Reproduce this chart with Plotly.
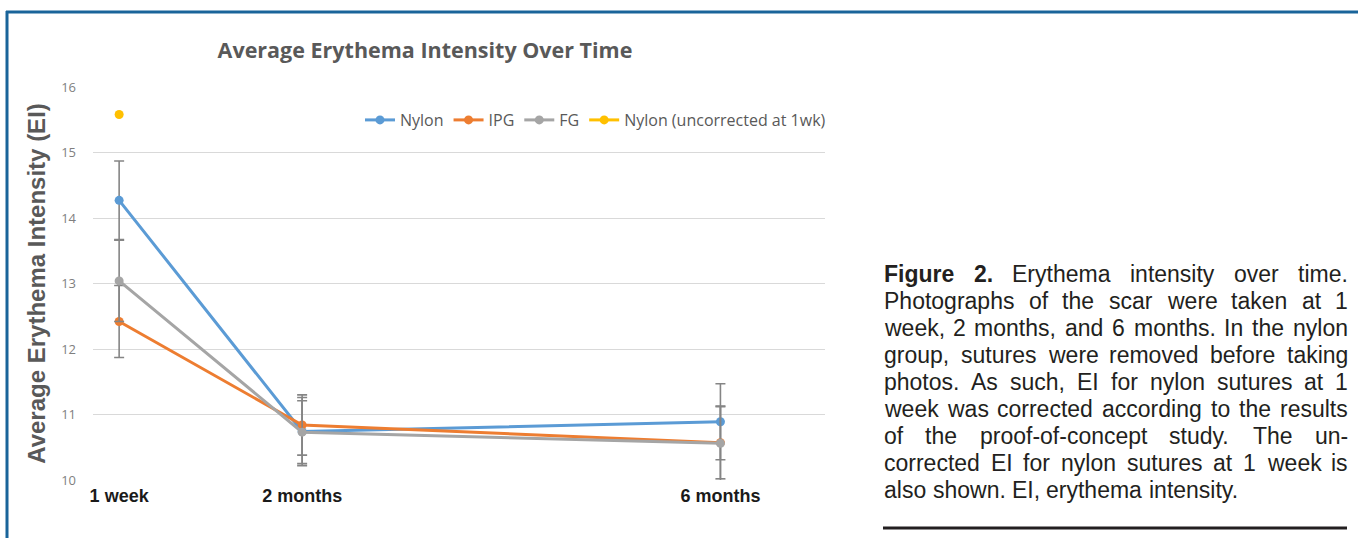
import plotly.graph_objects as go

# ---------------- data ----------------
time_months = [0.25, 2, 6]
time_labels = ["1 week", "2 months", "6 months"]

nylon = [14.27, 10.74, 10.89]
nylon_err = [0.60, 0.52, 0.58]
ipg = [12.42, 10.84, 10.57]
ipg_err = [0.55, 0.46, 0.55]
fg = [13.04, 10.73, 10.56]
fg_err = [0.62, 0.48, 0.57]
nylon_uncorr_time = [0.25]
nylon_uncorr = [15.58]

series_names = ["Nylon", "IPG", "FG", "Nylon (uncorrected at 1wk)"]
y_ticks = [10, 11, 12, 13, 14, 15, 16]

caption_lines = [
    "<b>Figure</b> <b>2.</b> Erythema intensity over time.",
    "Photographs of the scar were taken at 1",
    "week, 2 months, and 6 months. In the nylon",
    "group, sutures were removed before taking",
    "photos. As such, EI for nylon sutures at 1",
    "week was corrected according to the results",
    "of the proof-of-concept study. The un-",
    "corrected EI for nylon sutures at 1 week is",
    "also shown. EI, erythema intensity.",
]

# ---------------- layout geometry ----------------
W, H = 1358, 538
L, R, T, B = 93, 533, 87, 58
PW, PH = W - L - R, H - T - B


def px(xp):
    return (xp - L) / PW


def py(yp):
    return (H - B - yp) / PH


colors = ["#5B9BD5", "#ED7D31", "#A5A5A5", "#FFC000"]
err_col = "#858585"

fig = go.Figure()
for name, vals, errs, col in [
    (series_names[0], nylon, nylon_err, colors[0]),
    (series_names[1], ipg, ipg_err, colors[1]),
    (series_names[2], fg, fg_err, colors[2]),
]:
    fig.add_trace(go.Scatter(
        x=time_months, y=vals, name=name, mode="lines+markers",
        line=dict(color=col, width=3),
        marker=dict(color=col, size=9, symbol="circle"),
        error_y=dict(type="data", array=errs, visible=True,
                     color=err_col, thickness=1.6, width=5),
    ))

fig.add_trace(go.Scatter(
    x=nylon_uncorr_time, y=nylon_uncorr, name=series_names[3],
    mode="lines+markers",
    line=dict(color=colors[3], width=3),
    marker=dict(color=colors[3], size=9),
))

# ---------------- caption (justified, Arial metrics) ----------------
REG = {' ': 278, 'a': 556, 'b': 556, 'c': 500, 'd': 556, 'e': 556, 'f': 278,
       'g': 556, 'h': 556, 'i': 222, 'j': 222, 'k': 500, 'l': 222, 'm': 833,
       'n': 556, 'o': 556, 'p': 556, 'q': 556, 'r': 333, 's': 500, 't': 278,
       'u': 556, 'v': 500, 'w': 722, 'x': 500, 'y': 500, 'z': 500,
       'A': 667, 'E': 667, 'I': 278, 'P': 667, 'T': 611, 'F': 611,
       '.': 278, ',': 278, '-': 333}
BOLD = {'F': 611, 'i': 278, 'g': 611, 'u': 611, 'r': 389, 'e': 556, '.': 278}


def word_width(word, fs):
    bold = word.startswith("<b>")
    w = word.replace("<b>", "").replace("</b>", "")
    tot = 0
    for ch in w:
        if ch.isdigit():
            tot += 556
        elif bold:
            tot += BOLD.get(ch, REG.get(ch, 556))
        else:
            tot += REG.get(ch, 556)
    return tot * fs / 1000.0


cap_fs = 23
cap_left, cap_right = 883, 1347
cap_y0, cap_dy = 274, 27.0
annotations = []
for i, line in enumerate(caption_lines):
    yc = cap_y0 + i * cap_dy
    words = line.split(" ")
    widths = [word_width(w_, cap_fs) for w_ in words]
    if i == len(caption_lines) - 1:
        gap = 278 * cap_fs / 1000.0
    else:
        gap = (cap_right - cap_left - sum(widths)) / (len(words) - 1)
    xcur = cap_left
    for w_, ww in zip(words, widths):
        annotations.append(dict(
            x=px(xcur - 1), y=py(yc), xref="paper", yref="paper",
            text=w_, showarrow=False, xanchor="left", yanchor="middle",
            font=dict(family="Liberation Sans, Arial", size=cap_fs, color="#231f20"),
        ))
        xcur += ww + gap

shapes = [
    # blue frame
    dict(type="line", xref="paper", yref="paper", x0=px(6), x1=px(1360),
         y0=py(12), y1=py(12), line=dict(color="#19649a", width=3)),
    dict(type="line", xref="paper", yref="paper", x0=px(7), x1=px(7),
         y0=py(11), y1=py(540), line=dict(color="#19649a", width=3)),
    # caption rule
    dict(type="line", xref="paper", yref="paper", x0=px(883), x1=px(1347),
         y0=py(528), y1=py(528), line=dict(color="#231f20", width=3)),
]

fig.update_layout(
    width=W, height=H,
    margin=dict(l=L, r=R, t=T, b=B, autoexpand=False),
    paper_bgcolor="white", plot_bgcolor="white",
    title=dict(text="<b>Average Erythema Intensity Over Time</b>",
               x=px(425), xanchor="center", xref="paper",
               y=1 - 50 / H, yanchor="middle",
               font=dict(family="Open Sans, Lato", size=21.5, color="#595959")),
    showlegend=True,
    legend=dict(orientation="h", x=px(360), xanchor="left", y=py(120),
                yanchor="middle", bgcolor="rgba(0,0,0,0)",
                font=dict(family="Open Sans, Lato", size=16, color="#595959"),
                itemwidth=30),
    xaxis=dict(range=[0, 7], showgrid=False, zeroline=False, showline=False,
               tickmode="array", tickvals=time_months,
               ticktext=["<b>%s</b>" % t for t in time_labels],
               ticks="", ticklabelstandoff=3,
               tickfont=dict(family="Liberation Sans, Arial", size=18, color="#1a1a1a")),
    yaxis=dict(range=[10, 16], tickmode="array", tickvals=y_ticks,
               showgrid=True, gridcolor="#d9d9d9", gridwidth=1,
               zeroline=False, showline=False, ticks="", ticklabelstandoff=16,
               tickfont=dict(family="Open Sans, Lato", size=13, color="#7f7f7f"),
               title=dict(text="<b>Average Erythema Intensity (EI)</b>", standoff=8,
                          font=dict(family="Liberation Sans, Arial", size=24, color="#595959"))),
    annotations=annotations,
    shapes=shapes,
)

fig.write_html("out.html", config={"displayModeBar": False},
               post_script="document.body.style.margin='0';document.body.style.overflow='hidden';")
